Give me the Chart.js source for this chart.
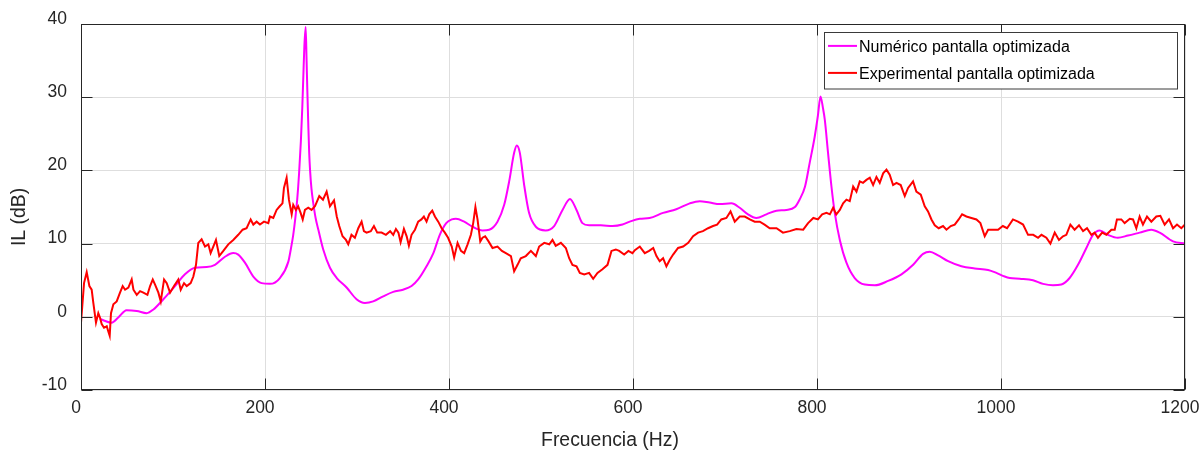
<!DOCTYPE html>
<html><head><meta charset="utf-8">
<script src="https://cdn.jsdelivr.net/npm/chart.js@4"></script>
<style>html,body{margin:0;padding:0;background:#fff}#wrap{width:1201px;height:450px}</style>
</head><body><div id="wrap"><canvas id="c" width="1201" height="450"></canvas></div>
<script>
const freqNum = [20.6,33.3,40.5,49.5,60.6,71.4,78.7,89.5,102.2,113,
123.9,136.6,145.6,156.5,165.5,170.9,178.2,187.3,196.3,205.4,
216.2,225.3,228,230.7,233,235,237,239,240.5,241.7,
242.8,244.2,245.2,246,247,248,249,250.5,252.5,255,
258,263.3,270.6,278,288.7,299.5,308.6,317.6,328.5,339.4,
350,359.3,366.5,375.6,383,390,397,403,407.5,416.5,
425.6,436.4,443.7,452.7,460,465.4,470.8,473.7,477,481.7,
487,494.4,505,514.3,523.4,531.5,538.6,545,552.3,565,
577.7,588.6,596.5,607.4,618,632.7,647,661.7,672.6,683.4,
694.3,707,716,725,734,745,756,766.7,776,781,
787,792,797.5,801,803.8,806.5,808.5,812,815.7,819.3,
824.8,832,841,852,862.8,877.3,891.8,904.5,915.3,922.6,
931.6,942.5,957,971.5,986,995,1004,1009.5,1020.3,1034.8,
1045.7,1056.5,1065.6,1074.6,1083.7,1092.8,1100,1107.3,1116.3,1127,
1138,1150.7,1163.4,1172.5,1187,1200];
const ilNum = [-0.3,-0.8,-0.1,0.9,0.8,0.5,1.0,2.4,4.2,5.8,
6.7,6.8,7.1,8.2,8.7,8.5,7.4,5.5,4.6,4.5,
5.3,7.5,9.2,11.2,13.5,16,19.5,24,28.5,33,
37,39.6,35,31,26.5,22.5,20,17.5,15.5,13.5,
11.9,9.2,6.7,5.3,4.0,2.4,1.9,2.1,2.8,3.4,
3.7,4.2,5.1,6.9,8.7,11.2,12.8,13.3,13.4,13.0,
12.3,11.8,11.9,13.0,15.3,18.5,22.4,23.4,22.4,18.0,
14.2,12.3,11.8,12.4,14.6,16.1,14.6,12.8,12.5,12.5,
12.4,12.6,13.0,13.4,13.5,14.2,14.7,15.5,15.8,15.6,
15.4,15.5,14.9,14.0,13.5,14.0,14.5,14.6,15.0,16.0,
17.8,21.0,24.6,27.5,30.1,28.5,26.9,22.4,17.8,14.2,
10.5,7.4,5.3,4.4,4.3,4.9,5.8,7.1,8.6,8.9,
8.4,7.6,6.9,6.6,6.4,6.0,5.5,5.3,5.2,5.0,
4.5,4.3,4.4,5.3,7.1,9.4,11.2,11.8,11.2,10.8,
11.1,11.5,11.9,11.5,10.3,10.0];
const freqExp = [0,3.3,6.2,9.1,11.6,13.4,16.3,18.8,20.6,22.5,
25,28,29.7,31.2,32.6,35.2,38.8,42.4,45.3,47.9,
51.5,55.1,57,60.6,64.2,67.8,72.2,75.1,78,80.5,
84.1,86.7,90.3,93.2,96.8,101.1,105.8,108.4,112,114.9,
119.2,122.1,125,127.5,131.1,134.8,138.4,140.9,143.8,146.7,
150.3,154.7,160.1,165.5,170.9,175.7,180,184.4,187.3,190.9,
194.5,198.9,203.6,205.4,209,212.6,216,219,220.6,223.5,
226,229,230.7,233.6,236,238.7,241,243.4,247,250.6,
254.3,259,263,267,270.6,275,278,280.7,284.3,288,
290.5,294,297.7,301.4,305,307.5,310.4,315,318.4,322,
326.7,331.4,336,339.4,342.3,345,347.4,351,354,356.4,
359.3,363,366.5,370,372.7,375.6,378.5,381.8,384.7,388.3,
392,395.5,399,403,405.6,409.3,413,416.5,420.2,423.8,
426.3,428.7,431,434,436.4,439.3,443,447.3,452.7,457.5,
461.8,467.3,470.8,474.5,478,483.5,489,494.4,498,503.5,
509,512.5,516,521.6,527,530.6,534.2,538.6,542.2,547,
552.3,556.7,561.4,566.8,572.3,576.6,581.3,585,590.4,595,
599.4,602,607.4,612.8,617.5,622,625.5,629,632.7,636.3,
640,643.6,649,654.5,660,665.3,670.8,676,681.6,687,
691.4,696,701.5,706,710.6,716,721.5,727,732.3,737.8,
743,748.6,756,763,770.4,777.6,785,790.3,796,801,
805.6,810.3,814,817.5,821,824.8,828.4,832,835.6,839.3,
842.9,846.5,850,853.7,857.4,861,864.6,868.2,871.9,875.5,
879,882.7,886.4,891,895.4,899,904.4,908,912.8,917.1,
920.7,924.4,928,932.3,937,940.7,945.4,949.7,954,957.7,
962.4,967.8,973.3,977.6,982.3,986,991.4,996.8,1002,1006.6,
1013,1018.5,1024,1029.4,1035,1040.3,1044,1049.3,1053.7,1058.4,
1063,1067.4,1071,1075.4,1080,1084.8,1089.2,1093.5,1098.2,1101.8,
1105.4,1110,1114.5,1120,1123.6,1126,1130.8,1134.4,1140,1143.5,
1147.1,1150.7,1154.3,1158.7,1163.4,1168.8,1173.2,1177.9,1182.6,1187,
1191.3,1196,1200];
const ilExp = [-0.8,4.6,6.1,4.2,3.7,1.9,-0.8,0.5,-0.1,-1.0,
-1.5,-1.3,-2.0,-2.6,0.5,1.7,2.1,3.3,4.2,3.7,
4.0,5.1,3.7,3.0,3.5,3.3,3.0,4.2,5.1,4.4,
3.3,2.1,5.1,4.6,3.3,4.2,5.1,3.7,4.6,4.2,
4.6,5.5,7.1,10.1,10.6,9.6,9.9,8.7,9.6,10.5,
8.3,9.0,9.9,10.5,11.2,11.9,12.1,13.3,12.6,13.0,
12.6,13.0,12.8,13.7,13.5,14.6,15.1,15.5,17.6,19.0,
16.0,14.0,15.3,14.6,15.1,14.2,13.3,14.6,14.9,14.6,
15.1,16.5,16.0,17.1,15.1,15.9,13.7,12.4,11.0,10.5,
9.9,11.2,10.8,12.1,13.0,11.7,11.5,11.7,12.4,11.5,
11.5,11.2,11.7,11.2,12.0,11.5,10.2,12.0,11.0,9.7,
11.2,11.9,13.0,13.3,13.7,13.0,14.0,14.5,13.7,13.0,
12.1,11.5,10.8,9.6,8.1,10.1,9.0,8.7,9.9,11.2,
12.8,15.0,13.3,10.3,10.8,11.0,10.3,9.4,9.6,9.0,
8.7,8.3,6.2,7.1,8.0,8.3,9.0,8.3,9.6,10.1,
9.9,10.5,9.7,10.1,9.4,8.0,7.1,6.9,6.0,5.8,
6.0,5.2,6.0,6.5,7.1,9.0,9.2,9.0,8.5,9.0,
8.7,9.1,9.6,8.7,9.0,9.4,8.3,7.6,8.0,6.9,
7.8,8.5,9.4,9.6,10.1,11.0,11.5,11.7,12.1,12.4,
12.6,13.3,13.5,14.4,13.0,13.7,13.7,13.3,13.0,13.0,
12.6,12.1,12.1,11.5,11.7,12.0,11.9,12.8,13.5,13.3,
14.0,14.2,14.0,14.9,14.0,14.6,15.5,16.0,15.8,17.8,
17.1,18.5,18.3,18.7,19.0,18.0,19.1,18.3,19.6,20.1,
19.4,18.0,18.3,18.0,16.5,17.6,18.5,17.1,16.7,15.1,
14.4,13.3,12.5,12.1,12.4,11.9,12.4,12.6,13.3,14.0,
13.7,13.5,13.3,12.8,11.0,11.9,11.9,11.9,12.4,12.1,
13.3,13.0,12.6,11.2,11.2,10.8,11.2,10.8,10.0,11.5,
10.5,11.0,11.2,12.6,11.9,12.5,11.7,12.1,11.2,11.5,
10.8,11.5,11.2,11.9,11.9,13.3,13.3,12.8,13.4,13.3,
12.1,13.7,12.6,13.7,13.0,13.7,13.8,12.6,13.3,12.1,
12.6,12.1,12.6];
const xTicks = [0,200,400,600,800,1000,1200];
const yTicks = [-10,0,10,20,30,40];
const seriesNames = ['Numérico pantalla optimizada','Experimental pantalla optimizada'];
const seriesColors = ['#ff00ff','#ff0000'];
const xTitle = 'Frecuencia (Hz)';
const yTitle = 'IL (dB)';

const FONT = '"Liberation Sans", Arial, Helvetica, sans-serif';
const AX = '#262626';

const framePlugin = {
  id: 'frame',
  afterDatasetsDraw(chart) {
    const ctx = chart.ctx, a = chart.chartArea;
    const xs = chart.scales.x, ys = chart.scales.y;
    const L = Math.round(a.left) + 0.5, R = Math.round(a.right) - 0.5;
    const T = Math.round(a.top) + 0.5, B = Math.round(a.bottom) - 0.5;
    ctx.save();
    ctx.strokeStyle = AX; ctx.lineWidth = 1;
    ctx.strokeRect(L, T, R - L, B - T);
    const tl = 11;
    ctx.beginPath();
    xTicks.forEach(v => {
      const px = Math.round(xs.getPixelForValue(v)) + 0.5;
      ctx.moveTo(px, B); ctx.lineTo(px, B - tl);
      ctx.moveTo(px, T); ctx.lineTo(px, T + tl);
    });
    yTicks.forEach(v => {
      const py = Math.round(ys.getPixelForValue(v)) + 0.5;
      ctx.moveTo(L, py); ctx.lineTo(L + tl, py);
      ctx.moveTo(R, py); ctx.lineTo(R - tl, py);
    });
    ctx.stroke();
    ctx.restore();
  },
  afterDraw(chart) {
    const ctx = chart.ctx;
    ctx.save();
    ctx.fillStyle = AX;
    ctx.font = '19.4px ' + FONT;
    ctx.textAlign = 'center';
    ctx.textBaseline = 'alphabetic';
    ctx.fillText(xTitle, 610, 445.5);
    ctx.save();
    ctx.translate(25, 217);
    ctx.rotate(-Math.PI / 2);
    ctx.fillText(yTitle, 0, 0);
    ctx.restore();
    const bx = 824.5, by = 32.5, bw = 353, bh = 56.5;
    ctx.fillStyle = '#ffffff';
    ctx.fillRect(bx, by, bw, bh);
    ctx.strokeStyle = '#3a3a3a'; ctx.lineWidth = 1;
    ctx.strokeRect(bx, by, bw, bh);
    ctx.font = '16px ' + FONT;
    ctx.textAlign = 'left';
    chart.data.datasets.forEach((ds, i) => {
      const base = 51.7 + i * 27;
      const ly = base - 5.8;
      ctx.strokeStyle = ds.borderColor; ctx.lineWidth = 2;
      ctx.beginPath(); ctx.moveTo(828, ly); ctx.lineTo(857, ly); ctx.stroke();
      ctx.fillStyle = '#000000';
      ctx.fillText(ds.label, 859, base);
    });
    ctx.restore();
  }
};

new Chart(document.getElementById('c'), {
  type: 'line',
  data: {
    datasets: [
      { label: seriesNames[0], data: freqNum.map((f, i) => ({x: f, y: ilNum[i]})),
        borderColor: seriesColors[0], borderWidth: 2, pointRadius: 0, fill: false,
        cubicInterpolationMode: 'monotone', order: 1 },
      { label: seriesNames[1], data: freqExp.map((f, i) => ({x: f, y: ilExp[i]})),
        borderColor: seriesColors[1], borderWidth: 2, pointRadius: 0, fill: false,
        tension: 0, order: 0 }
    ]
  },
  options: {
    responsive: false, animation: false, devicePixelRatio: 1,
    layout: { padding: { left: 0, top: 24, right: 16, bottom: 0 } },
    plugins: { legend: { display: false }, tooltip: { enabled: false }, title: { display: false } },
    scales: {
      x: {
        type: 'linear', min: 0, max: 1200,
        afterBuildTicks: s => { s.ticks = xTicks.map(v => ({ value: v })); },
        ticks: { font: { family: FONT, size: 17.5 }, color: AX, padding: 8, labelOffset: -5, maxRotation: 0, autoSkip: false,
                 callback: v => String(v) },
        grid: { color: '#dedede', lineWidth: 1, drawTicks: false },
        border: { display: false },
        afterFit: s => { s.height = 60; s.paddingLeft = 0; s.paddingRight = 0; }
      },
      y: {
        type: 'linear', min: -10, max: 40,
        afterBuildTicks: s => { s.ticks = yTicks.map(v => ({ value: v })); },
        ticks: { font: { family: FONT, size: 17.5 }, color: AX, padding: 14, labelOffset: -5, autoSkip: false,
                 callback: v => String(v) },
        grid: { color: '#dedede', lineWidth: 1, drawTicks: false },
        border: { display: false },
        afterFit: s => { s.width = 81; s.paddingTop = 0; s.paddingBottom = 0; }
      }
    }
  },
  plugins: [framePlugin]
});
</script>
</body></html>
